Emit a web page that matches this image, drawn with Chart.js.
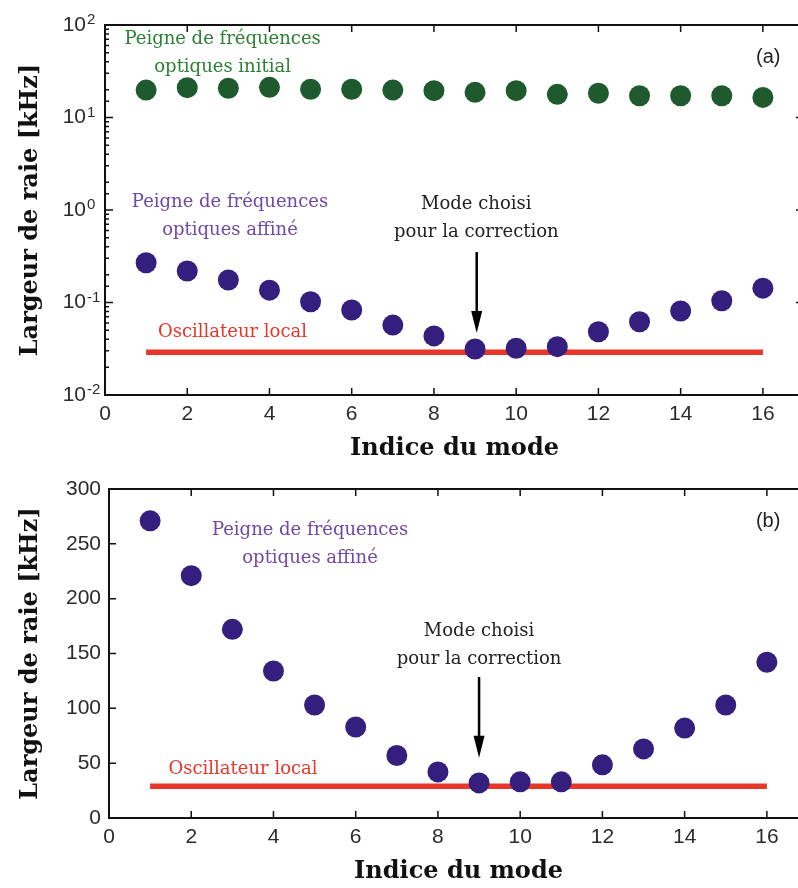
<!DOCTYPE html>
<html>
<head>
<meta charset="utf-8">
<script src="https://cdn.jsdelivr.net/npm/chart.js@4.4.1/dist/chart.umd.min.js"></script>
<style>
  html, body { margin: 0; padding: 0; overflow: hidden; background: #fff; width: 798px; height: 888px; }
  canvas { display: block; }
</style>
</head>
<body>
<canvas id="chartA" width="804" height="470"></canvas>
<canvas id="chartB" width="808" height="418"></canvas>
<script>
// mode index
const modes = [1, 2, 3, 4, 5, 6, 7, 8, 9, 10, 11, 12, 13, 14, 15, 16];
// (a) log scale
const initialComb = [19.8, 21.0, 20.7, 21.2, 20.2, 20.2, 19.8, 19.5, 18.7, 19.5, 17.8, 18.3, 17.2, 17.2, 17.2, 16.5];
const refinedCombA = [0.269, 0.219, 0.175, 0.136, 0.102, 0.083, 0.057, 0.0435, 0.0314, 0.032, 0.0333, 0.0483, 0.062, 0.081, 0.1045, 0.143];
const localOscA = 0.029;
// (b) linear scale
const refinedCombB = [271, 221, 172, 134, 103, 83, 57, 42, 32, 33, 33, 48.5, 63, 82, 103, 142];
const localOscB = 29;
const oscSpan = [1, 16];

const GREEN_DOT = 'rgb(30, 90, 45)';
const PURPLE_DOT = 'rgb(52, 30, 126)';
const RED = 'rgb(230, 55, 42)';
const SERIF = '"DejaVu Serif", serif';
const SANS = '"Liberation Sans", Arial, sans-serif';

function isDecade(v) {
  const e = Math.log10(v);
  return Math.abs(e - Math.round(e)) < 1e-6;
}

function pointSet(ys, color) {
  return {
    type: 'scatter',
    data: modes.map((m, i) => ({ x: m, y: ys[i] })),
    backgroundColor: color,
    borderWidth: 0,
    pointRadius: 10.5,
    pointHoverRadius: 10.5,
    order: 1
  };
}

function oscSet(v) {
  return {
    type: 'line',
    data: oscSpan.map(x => ({ x: x, y: v })),
    borderColor: RED,
    borderWidth: 5.5,
    borderCapStyle: 'butt',
    pointRadius: 0,
    order: 2
  };
}

// borders, inward ticks, exponents, notes and arrow
const frame = {
  id: 'frame',
  afterDraw(chart, args, opts) {
    const { ctx, chartArea: a, scales: { x, y } } = chart;
    ctx.save();
    ctx.strokeStyle = '#111';
    ctx.lineWidth = 2;
    ctx.beginPath();
    ctx.moveTo(a.left, a.top);
    ctx.lineTo(a.right, a.top);
    ctx.lineTo(a.right, a.bottom);
    ctx.stroke();

    ctx.lineWidth = 1.5;
    ctx.beginPath();
    x.ticks.forEach(t => {
      if (t.value % 2 !== 0) return;
      const px = x.getPixelForValue(t.value);
      ctx.moveTo(px, a.bottom); ctx.lineTo(px, a.bottom - 7);
      ctx.moveTo(px, a.top); ctx.lineTo(px, a.top + 7);
    });
    y.ticks.forEach(t => {
      const py = y.getPixelForValue(t.value);
      let len = 7;
      if (opts.log) len = isDecade(t.value) ? 8 : 4;
      ctx.moveTo(a.left, py); ctx.lineTo(a.left + len, py);
      ctx.moveTo(a.right, py); ctx.lineTo(a.right - len, py);
    });
    ctx.stroke();

    // exponents next to the "10" tick labels
    if (opts.log) {
      ctx.font = '15px ' + SANS;
      ctx.fillStyle = '#2b2b2b';
      ctx.textAlign = 'left';
      ctx.textBaseline = 'alphabetic';
      y.ticks.forEach(t => {
        if (!isDecade(t.value)) return;
        const py = y.getPixelForValue(t.value);
        ctx.fillText(String(Math.round(Math.log10(t.value))), a.left - 18, py - 1);
      });
    }

    ctx.textAlign = 'center';
    ctx.textBaseline = 'middle';
    (opts.notes || []).forEach(n => {
      ctx.font = n.font;
      ctx.fillStyle = n.color;
      const px = x.getPixelForValue(n.x);
      const py = y.getPixelForValue(n.y);
      n.lines.forEach((s, i) => ctx.fillText(s, px, py + i * 28));
    });

    if (opts.arrow) {
      const ar = opts.arrow;
      const px = x.getPixelForValue(ar.x);
      const y0 = y.getPixelForValue(ar.from);
      const y1 = y.getPixelForValue(ar.to);
      ctx.strokeStyle = '#000';
      ctx.fillStyle = '#000';
      ctx.lineWidth = 2.5;
      ctx.beginPath();
      ctx.moveTo(px, y0); ctx.lineTo(px, y1 - 20);
      ctx.stroke();
      ctx.beginPath();
      ctx.moveTo(px - 5.5, y1 - 22);
      ctx.lineTo(px + 5.5, y1 - 22);
      ctx.lineTo(px, y1);
      ctx.closePath();
      ctx.fill();
    }
    ctx.restore();
  }
};

function xScale(axisHeight, titlePadBottom) {
  return {
    type: 'linear',
    min: 0,
    max: 17,
    afterFit(s) { s.height = axisHeight; s.paddingRight = 0; s.paddingLeft = 0; },
    grid: { drawOnChartArea: false, drawTicks: false },
    border: { display: true, color: '#111', width: 2 },
    ticks: {
      stepSize: 2,
      autoSkip: false,
      maxRotation: 0,
      padding: 7,
      color: '#2b2b2b',
      font: { family: SANS, size: 21 },
      callback: v => (v % 2 === 0 ? String(v) : '')
    },
    title: {
      display: true,
      text: 'Indice du mode',
      color: '#111',
      font: { family: SERIF, size: 24, weight: 'bold' },
      padding: { top: 0, bottom: titlePadBottom }
    }
  };
}

function yTitle() {
  return {
    display: true,
    text: 'Largeur de raie [kHz]',
    color: '#111',
    font: { family: SERIF, size: 24, weight: 'bold' },
    padding: { top: 16, bottom: 0 }
  };
}

function fitY(width) {
  return s => { s.width = width; s.paddingTop = 0; s.paddingBottom = 0; };
}

const purpleText = 'rgb(112, 72, 168)';
const greenText = 'rgb(44, 128, 52)';
const noteFont = '18px ' + SERIF;
const labelFont = '20px ' + SANS;

new Chart(document.getElementById('chartA'), {
  type: 'scatter',
  data: {
    datasets: [pointSet(initialComb, GREEN_DOT), pointSet(refinedCombA, PURPLE_DOT), oscSet(localOscA)]
  },
  options: {
    responsive: false,
    animation: false,
    events: [],
    layout: { autoPadding: false, padding: { top: 25, right: 0, bottom: 0, left: 0 } },
    plugins: {
      legend: { display: false },
      tooltip: { enabled: false },
      frame: {
        log: true,
        notes: [
          { x: 2.86, y: 70.6, lines: ['Peigne de fréquences', 'optiques initial'], color: greenText, font: noteFont },
          { x: 3.04, y: 1.22, lines: ['Peigne de fréquences', 'optiques affiné'], color: purpleText, font: noteFont },
          { x: 3.1, y: 0.048, lines: ['Oscillateur local'], color: RED, font: noteFont },
          { x: 9.03, y: 1.16, lines: ['Mode choisi', 'pour la correction'], color: '#222', font: noteFont },
          { x: 16.13, y: 44, lines: ['(a)'], color: '#222', font: labelFont }
        ],
        arrow: { x: 9.04, from: 0.351, to: 0.0468 }
      }
    },
    scales: {
      x: xScale(75, 7),
      y: {
        type: 'logarithmic',
        min: 0.01,
        max: 100,
        afterFit: fitY(105),
        grid: { drawOnChartArea: false, drawTicks: false },
        border: { display: true, color: '#111', width: 2 },
        ticks: {
          autoSkip: false,
          padding: 19,
          color: '#2b2b2b',
          font: { family: SANS, size: 21 },
          callback: v => (isDecade(v) ? '10' : '')
        },
        title: yTitle()
      }
    }
  },
  plugins: [frame]
});

new Chart(document.getElementById('chartB'), {
  type: 'scatter',
  data: {
    datasets: [pointSet(refinedCombB, PURPLE_DOT), oscSet(localOscB)]
  },
  options: {
    responsive: false,
    animation: false,
    events: [],
    layout: { autoPadding: false, padding: { top: 19, right: 0, bottom: 0, left: 0 } },
    plugins: {
      legend: { display: false },
      tooltip: { enabled: false },
      frame: {
        log: false,
        notes: [
          { x: 4.89, y: 262.6, lines: ['Peigne de fréquences', 'optiques affiné'], color: purpleText, font: noteFont },
          { x: 3.26, y: 44, lines: ['Oscillateur local'], color: RED, font: noteFont },
          { x: 9.0, y: 170.6, lines: ['Mode choisi', 'pour la correction'], color: '#222', font: noteFont },
          { x: 16.03, y: 270, lines: ['(b)'], color: '#222', font: labelFont }
        ],
        arrow: { x: 9.0, from: 128.6, to: 55 }
      }
    },
    scales: {
      x: xScale(70, 2),
      y: {
        type: 'linear',
        min: 0,
        max: 300,
        afterFit: fitY(109),
        grid: { drawOnChartArea: false, drawTicks: false },
        border: { display: true, color: '#111', width: 2 },
        ticks: {
          stepSize: 50,
          autoSkip: false,
          padding: 8,
          color: '#2b2b2b',
          font: { family: SANS, size: 21 }
        },
        title: yTitle()
      }
    }
  },
  plugins: [frame]
});
</script>
</body>
</html>
